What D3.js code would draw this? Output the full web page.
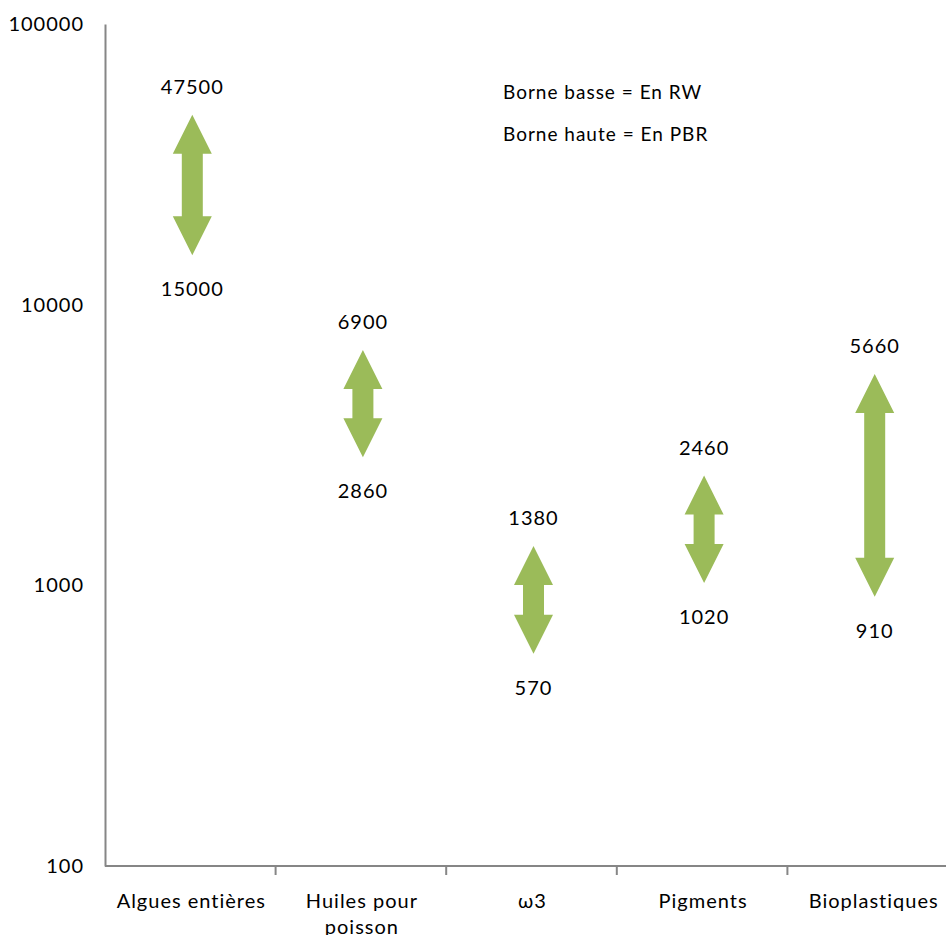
<!DOCTYPE html>
<html>
<head>
<meta charset="utf-8">
<script src="https://cdn.jsdelivr.net/npm/d3@7"></script>
<style>
  body { margin: 0; background: #ffffff; }
  svg text { font-family: Lato, "Open Sans", sans-serif; fill: #000; letter-spacing: 1px; }
</style>
</head>
<body>
<div id="chart"></div>
<script>
var categories = ["Algues entières", "Huiles pour poisson", "ω3", "Pigments", "Bioplastiques"];
var lowValues  = [15000, 2860, 570, 1020, 910];
var highValues = [47500, 6900, 1380, 2460, 5660];
var yTicks = [100, 1000, 10000, 100000];
var notes = ["Borne basse = En RW", "Borne haute = En PBR"];

function drawChart(selector){
    var width = 946, height = 935;
    var margin = {left: 105, top: 24, bottom: 69};
    var axisColor = "#868686", arrowColor = "#9BBB59";

    var svg = d3.select(selector)
    .append("svg")
    .attr("width", width)
    .attr("height", height)

    var x = d3.scaleBand()
    .domain(categories)
    .range([margin.left, margin.left + 5 * 170.6])

    var y = d3.scaleLog()
    .domain([100, 100000])
    .range([height - margin.bottom, margin.top])

    // y axis, no ticks, labels only
    var yAxis = svg.append("g")
    .attr("transform", "translate(" + margin.left + ",0)")
    .call(d3.axisLeft(y).tickValues(yTicks).tickFormat(d3.format("d")).tickSize(0).tickPadding(21))
    yAxis.select(".domain").attr("stroke", axisColor).attr("stroke-width", 2)
    yAxis.selectAll("text").attr("font-size", 20).attr("font-family", "Lato")

    // x axis
    var xAxisY = height - margin.bottom;
    var gx = svg.append("g")
    gx.append("line")
        .attr("x1", margin.left).attr("x2", width)
        .attr("y1", xAxisY).attr("y2", xAxisY)
        .attr("stroke", axisColor).attr("stroke-width", 2)
    gx.selectAll(".xtick")
        .data(categories.slice(1)).enter().append("line")
            .attr("class", "xtick")
            .attr("x1", function(d){ return x(d) }).attr("x2", function(d){ return x(d) })
            .attr("y1", xAxisY).attr("y2", xAxisY + 9)
            .attr("stroke", axisColor).attr("stroke-width", 2)

    var labels = gx.selectAll(".xlabel")
        .data(categories).enter().append("text")
            .attr("class", "xlabel")
            .attr("text-anchor", "middle")
            .attr("font-size", 20)
            .attr("x", function(d){ return x(d) + x.bandwidth() / 2 + 1 })
            .attr("y", xAxisY + 42)
    labels.each(function(d){
        var t = d3.select(this), words = d.split(" "), line = [];
        var tspan = t.append("tspan").attr("x", t.attr("x")).attr("dy", 0);
        words.forEach(function(w){
            line.push(w);
            tspan.text(line.join(" "));
            if (tspan.node().getComputedTextLength() > x.bandwidth() - 12 && line.length > 1) {
                line.pop();
                tspan.text(line.join(" "));
                line = [w];
                tspan = t.append("tspan").attr("x", t.attr("x")).attr("dy", 26).text(w);
            }
        });
    });

    // double arrows
    var shaftW = 21, headW = 39, headL = 39;
    var rows = categories.map(function(c, i){
        return {cat: c, low: lowValues[i], high: highValues[i]}
    })

    var g = svg.append("g")
    g.selectAll(".arrow")
        .data(rows).enter().append("path")
            .attr("class", "arrow")
            .attr("fill", arrowColor)
            .attr("d", function(d){
                var cx = x(d.cat) + x.bandwidth() / 2 + 2;
                var top = y(d.high), bot = y(d.low);
                return "M" + cx + "," + top +
                    "L" + (cx + headW / 2) + "," + (top + headL) +
                    "L" + (cx + shaftW / 2) + "," + (top + headL) +
                    "L" + (cx + shaftW / 2) + "," + (bot - headL) +
                    "L" + (cx + headW / 2) + "," + (bot - headL) +
                    "L" + cx + "," + bot +
                    "L" + (cx - headW / 2) + "," + (bot - headL) +
                    "L" + (cx - shaftW / 2) + "," + (bot - headL) +
                    "L" + (cx - shaftW / 2) + "," + (top + headL) +
                    "L" + (cx - headW / 2) + "," + (top + headL) + "Z"
            })

    g.selectAll(".hilabel")
        .data(rows).enter().append("text")
            .attr("class", "hilabel")
            .attr("text-anchor", "middle")
            .attr("font-size", 20)
            .attr("x", function(d){ return x(d.cat) + x.bandwidth() / 2 + 2 })
            .attr("y", function(d){ return y(d.high) - 21 })
            .text(function(d){ return d.high })

    g.selectAll(".lolabel")
        .data(rows).enter().append("text")
            .attr("class", "lolabel")
            .attr("text-anchor", "middle")
            .attr("font-size", 20)
            .attr("x", function(d){ return x(d.cat) + x.bandwidth() / 2 + 2 })
            .attr("y", function(d){ return y(d.low) + 41 })
            .text(function(d){ return d.low })

    // notes
    svg.selectAll(".note")
        .data(notes).enter().append("text")
            .attr("class", "note")
            .attr("font-size", 19)
            .attr("x", 503)
            .attr("y", function(d, i){ return 99 + i * 42 })
            .text(function(d){ return d })
}

drawChart("#chart")
</script>
</body>
</html>
